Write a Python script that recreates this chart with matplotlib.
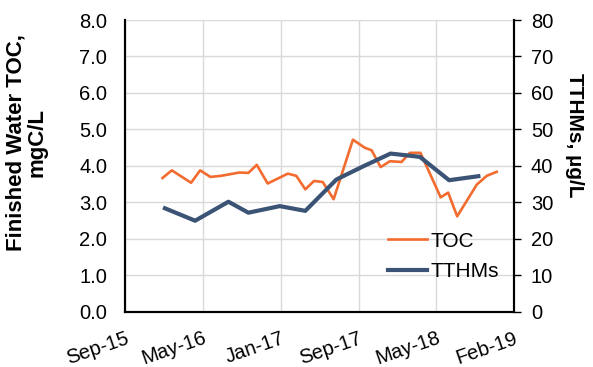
import numpy as np
import pandas as pd
import matplotlib
matplotlib.use('Agg')
import matplotlib.pyplot as plt
import matplotlib.dates as mdates

plt.rcParams['font.family'] = ['Liberation Sans', 'DejaVu Sans']

# finished water TOC, mgC/L
toc_dates = ['2015-12-30', '2016-01-29', '2016-03-31', '2016-04-29', '2016-06-01',
             '2016-07-05', '2016-09-02', '2016-10-01', '2016-10-28', '2016-12-02',
             '2017-02-05', '2017-03-04', '2017-04-02', '2017-04-30', '2017-05-28',
             '2017-07-02', '2017-09-02', '2017-10-10', '2017-11-01', '2017-11-30',
             '2017-12-30', '2018-02-05', '2018-03-04', '2018-04-07', '2018-06-11',
             '2018-07-05', '2018-08-03', '2018-10-05', '2018-11-06', '2018-12-08']
toc = [3.67, 3.88, 3.54, 3.88, 3.70, 3.73, 3.82, 3.81, 4.03, 3.52,
       3.79, 3.73, 3.36, 3.59, 3.56, 3.09, 4.72, 4.50, 4.43, 3.97,
       4.13, 4.11, 4.36, 4.36, 3.14, 3.27, 2.62, 3.49, 3.73, 3.84]

# TTHMs, ug/L
tthm_dates = ['2016-01-07', '2016-04-13', '2016-07-29', '2016-10-01', '2017-01-10',
              '2017-04-02', '2017-07-11', '2017-10-05', '2018-01-01', '2018-04-05',
              '2018-07-08', '2018-10-10']
tthm = [28.4, 25.0, 30.2, 27.2, 29.0, 27.7, 36.3, 39.9, 43.4, 42.5, 36.1, 37.2]

toc_dates = pd.to_datetime(toc_dates)
tthm_dates = pd.to_datetime(tthm_dates)

start = pd.Timestamp('2015-09-01')
xticks = [start + pd.Timedelta(days=250 * i) for i in range(6)]

fig = plt.figure(figsize=(5.93, 3.67), dpi=100)
ax = fig.add_axes([0.211, 0.150, 0.656, 0.7955])
ax2 = ax.twinx()

l1, = ax.plot(toc_dates, toc, color='#F26B2F', lw=1.9, label='TOC')
l2, = ax2.plot(tthm_dates, tthm, color='#3B5375', lw=3.0, label='TTHMs')

ax.set_xlim(xticks[0], xticks[-1])
ax.set_xticks(xticks)
ax.xaxis.set_major_formatter(mdates.DateFormatter('%b-%y'))
ax.set_ylim(0, 8)
ax.set_yticks(np.arange(0, 8.1, 1))
ax.set_yticklabels(['%.1f' % v for v in np.arange(0, 8.1, 1)])
ax2.set_ylim(0, 80)
ax2.set_yticks(np.arange(0, 81, 10))

ax.grid(True, color='#D9D9D9', lw=1)
ax.set_axisbelow(True)

ax.tick_params(axis='x', length=0, labelsize=14.5, pad=12)
ax.tick_params(axis='y', length=0, labelsize=14.5, pad=13)
ax2.tick_params(axis='y', length=5, width=1, labelsize=14.5, pad=7, direction='out')
for lab in ax.get_xticklabels():
    lab.set_rotation(19)
    lab.set_ha('right')
    lab.set_rotation_mode('anchor')

for a in (ax, ax2):
    a.spines['top'].set_visible(False)
    for s in ('left', 'right', 'bottom'):
        a.spines[s].set_color('black')
        a.spines[s].set_linewidth(1.5)

ax.set_ylabel('Finished Water TOC,\nmgC/L', fontsize=16, fontweight='bold', linespacing=1.0)
ax.yaxis.set_label_coords(-0.2, 0.58)
ax2.set_ylabel('TTHMs, µg/L', fontsize=15, fontweight='bold', rotation=-90, va='center')
ax2.yaxis.set_label_coords(1.155, 0.606)

ax2.legend([l1, l2], ['TOC', 'TTHMs'], loc='center left', bbox_to_anchor=(0.675, 0.19),
           frameon=False, fontsize=15, handlelength=1.9, handletextpad=0.15,
           labelspacing=0.55, borderpad=0, borderaxespad=0)

fig.savefig('out.png', dpi=100)
